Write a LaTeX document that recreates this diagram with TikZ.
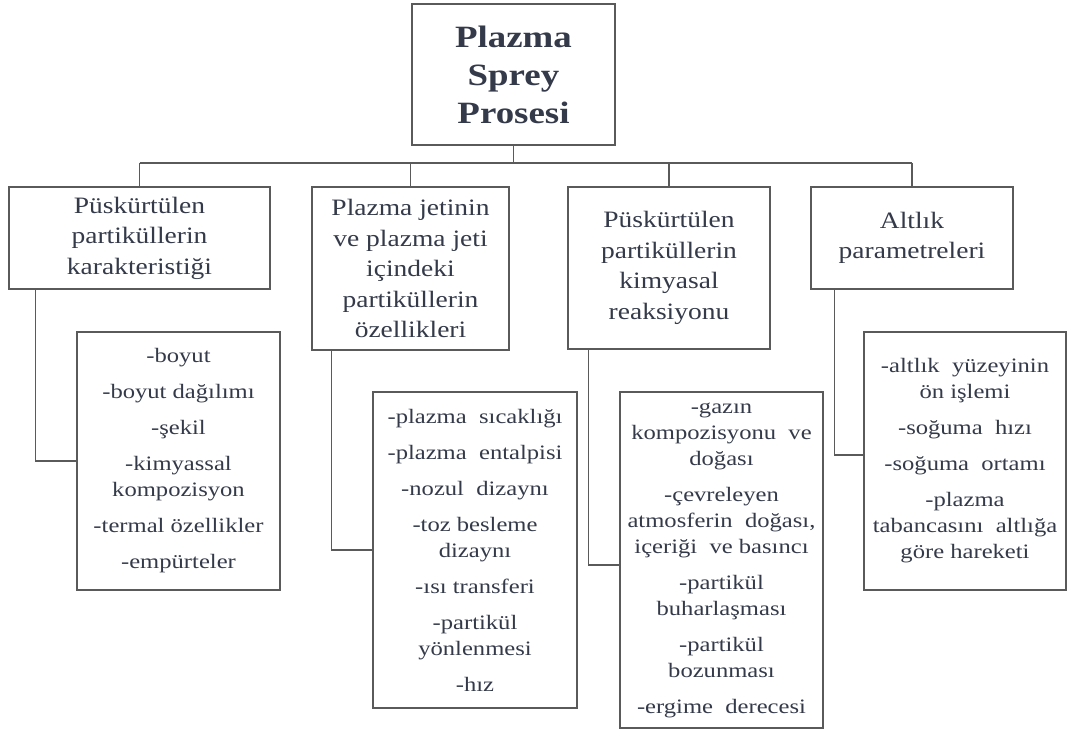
\documentclass[tikz,border=0pt]{standalone}
\usepackage{fontspec}
\setmainfont{Liberation Serif}
\newfontfamily\titlefont{Liberation Serif}[FakeStretch=1.19]
\newfontfamily\headfont{Liberation Serif}[FakeStretch=1.17]
\newfontfamily\itemfont{Liberation Serif}[FakeStretch=1.2]
\definecolor{ink}{RGB}{52,58,74}
\definecolor{rule}{RGB}{90,90,90}
\tikzset{
  box/.style={draw=rule, line width=1.4pt, fill=white, inner sep=0pt, align=center, text=ink},
  titlebox/.style={box, font=\titlefont\bfseries\fontsize{31}{38}\selectfont},
  headbox/.style={box, font=\headfont\fontsize{23.5}{30.5}\selectfont},
  itembox/.style={box, font=\itemfont\fontsize{20.5}{26}\selectfont},
  link/.style={draw=rule, line width=1.4pt}
}
\newcommand{\gap}{\\[10pt]}
\begin{document}
\begin{tikzpicture}[x=1pt,y=-1pt]
\useasboundingbox (0,0) rectangle (1068,738);

% root and first level
\node[titlebox, minimum width=203pt, minimum height=141pt] (root) at (513.5,74.5)
  {Plazma\\Sprey\\Prosesi};
\node[headbox, minimum width=261pt, minimum height=102pt] (h1) at (139.5,238)
  {Püskürtülen\\partiküllerin\\karakteristiği};
\node[headbox, minimum width=197pt, minimum height=163pt] (h2) at (410.5,268.5)
  {Plazma jetinin\\ve plazma jeti\\içindeki\\partiküllerin\\özellikleri};
\node[headbox, minimum width=202pt, minimum height=162pt] (h3) at (669,268)
  {Püskürtülen\\partiküllerin\\kimyasal\\reaksiyonu};
\node[headbox, minimum width=202pt, minimum height=102pt] (h4) at (912,238)
  {Altlık\\parametreleri};

% detail lists
\node[itembox, minimum width=203pt, minimum height=258pt] (c1) at (178.5,461)
  {-boyut\gap -boyut dağılımı\gap -şekil\gap -kimyassal\\kompozisyon\gap
   -termal özellikler\gap -empürteler};
\node[itembox, minimum width=204pt, minimum height=316pt] (c2) at (475,550)
  {-plazma\ \ sıcaklığı\gap -plazma\ \ entalpisi\gap -nozul\ \ dizaynı\gap
   -toz besleme\\dizaynı\gap -ısı transferi\gap -partikül\\yönlenmesi\gap -hız};
\node[itembox, minimum width=203pt, minimum height=336pt] (c3) at (721.5,560)
  {-gazın\\kompozisyonu\ \ ve\\doğası\gap -çevreleyen\\atmosferin\ \ doğası,\\içeriği\ \ ve basıncı\gap
   -partikül\\buharlaşması\gap -partikül\\bozunması\gap -ergime\ \ derecesi};
\node[itembox, minimum width=202pt, minimum height=258pt] (c4) at (965,461)
  {-altlık\ \ yüzeyinin\\ön işlemi\gap -soğuma\ \ hızı\gap -soğuma\ \ ortamı\gap
   -plazma\\tabancasını\ \ altlığa\\göre hareketi};

% tree connectors
\coordinate (bus) at (513.5,163);
\draw[link] (root.south) -- (root.south |- bus);
\draw[link] (h1.north |- bus) -- (h4.north |- bus);
\foreach \h in {h1,h2,h3,h4} \draw[link] (\h.north |- bus) -- (\h.north);

% elbow connectors to the lists
\draw[link] ([xshift=27pt]h1.south west) |- (c1.west);
\draw[link] ([xshift=20pt]h2.south west) |- (c2.west);
\draw[link] ([xshift=21pt]h3.south west) |- ([yshift=-5pt]c3.west);
\draw[link] ([xshift=24pt]h4.south west) |- ([yshift=6pt]c4.west);
\end{tikzpicture}
\end{document}
